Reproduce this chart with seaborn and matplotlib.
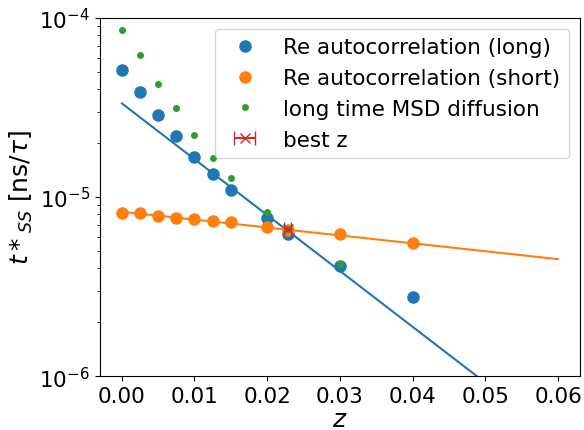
import matplotlib
matplotlib.use("Agg")
import matplotlib.pyplot as plt
import seaborn as sns
import numpy as np
import pandas as pd

# ---- data ----
z_long = [0.0, 0.0025, 0.005, 0.0075, 0.01, 0.0125, 0.015, 0.02, 0.0228, 0.03, 0.04]
t_long = [5.12e-5, 3.86e-5, 2.87e-5, 2.19e-5, 1.67e-5, 1.34e-5, 1.09e-5, 7.64e-6, 6.25e-6, 4.12e-6, 2.76e-6]

z_short = [0.0, 0.0025, 0.005, 0.0075, 0.01, 0.0125, 0.015, 0.02, 0.0228, 0.03, 0.04]
t_short = [8.17e-6, 8.12e-6, 7.87e-6, 7.6e-6, 7.57e-6, 7.31e-6, 7.28e-6, 6.82e-6, 6.56e-6, 6.21e-6, 5.54e-6]

z_msd = [0.0, 0.0025, 0.005, 0.0075, 0.01, 0.0125, 0.015, 0.02, 0.0228, 0.03]
t_msd = [8.57e-5, 6.21e-5, 4.27e-5, 3.14e-5, 2.22e-5, 1.65e-5, 1.28e-5, 8.24e-6, 6.6e-6, 4.23e-6]

fit_z = [0.0, 0.06]
fit_long = [3.34e-5, 4.48e-7]
fit_short = [8.28e-6, 4.50e-6]

best_z = [0.0228]
best_t = [6.6e-6]
best_zerr = [0.00046]

sns.set_theme(style="ticks", rc={
    "xtick.major.size": 3.5, "ytick.major.size": 3.5,
    "xtick.minor.size": 2, "ytick.minor.size": 2,
    "xtick.major.width": 0.8, "ytick.major.width": 0.8,
    "ytick.minor.width": 0.6, "xtick.major.pad": 3.5, "ytick.major.pad": 3.5,
    "axes.linewidth": 0.8, "axes.edgecolor": "black",
    "text.color": "black", "axes.labelcolor": "black",
    "xtick.color": "black", "ytick.color": "black",
})
plt.rcParams['font.family'] = ['DejaVu Sans']

fig, ax = plt.subplots(figsize=(5.84, 4.31), dpi=100)
c_blue, c_orange, c_green, c_red = "#1f77b4", "#ff7f0e", "#2ca02c", "#d62728"

sns.lineplot(x=fit_z, y=fit_long, ax=ax, color=c_blue, lw=1.5, legend=False)
sns.lineplot(x=fit_z, y=fit_short, ax=ax, color=c_orange, lw=1.5, legend=False)

ax.plot(z_long, t_long, 'o', color=c_blue, ms=8, label="Re autocorrelation (long)")
ax.plot(z_short, t_short, 'o', color=c_orange, ms=8, label="Re autocorrelation (short)")
ax.plot(z_msd, t_msd, 'o', color=c_green, ms=4, label="long time MSD diffusion")
ax.errorbar(best_z, best_t, xerr=best_zerr, fmt='x', color=c_red, capsize=5,
            ms=7, label="best z")

ax.set_yscale("log")
ax.set_ylim(1e-6, 1e-4)
ax.set_xlim(-0.003, 0.063)
ax.set_xticks([0.0, 0.01, 0.02, 0.03, 0.04, 0.05, 0.06])
ax.set_xticklabels(["0.00", "0.01", "0.02", "0.03", "0.04", "0.05", "0.06"])
ax.tick_params(labelsize=15.5)
ax.set_xlabel("$z$", fontsize=18, labelpad=1)
ax.set_ylabel(r"$t*_{SS}$ [ns/$\tau$]", fontsize=18, labelpad=3)
for s in ax.spines.values():
    s.set_visible(True)

ax.legend(loc="upper right", fontsize=15.5, numpoints=1, framealpha=0.8)
fig.subplots_adjust(left=0.171, right=0.993, top=0.956, bottom=0.125)
fig.savefig("out.png", dpi=100)
